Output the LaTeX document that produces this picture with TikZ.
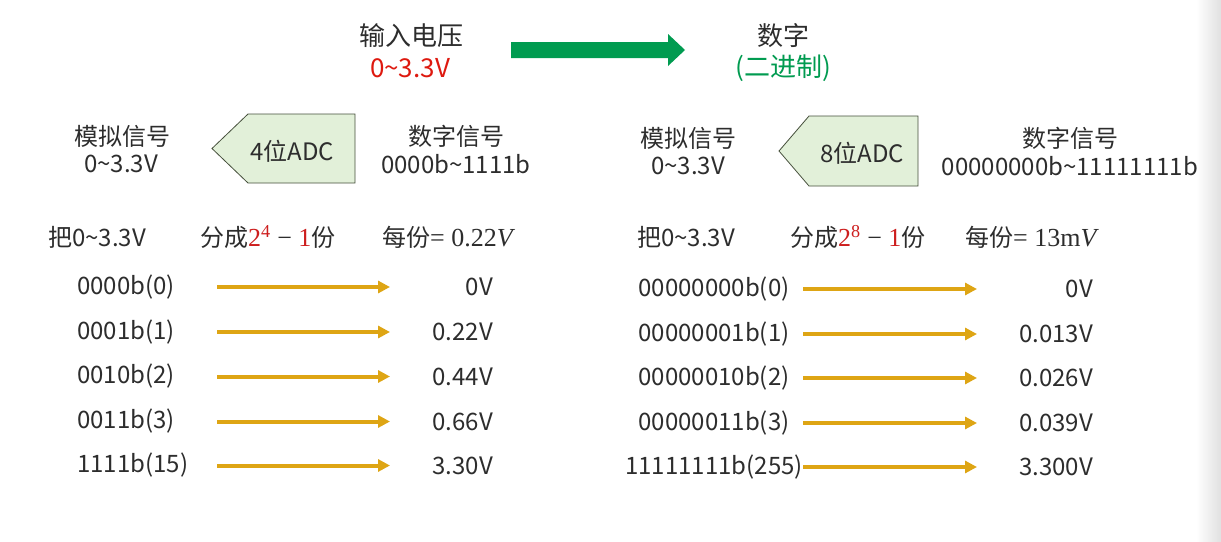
\documentclass[tikz,border=0pt]{standalone}
\usepackage{fontspec}
\setmainfont{Noto Sans CJK SC}
\newfontfamily\mathlikefam{Liberation Serif}
\newcommand{\mathlike}{\mathlikefam\fontsize{26}{30}\selectfont}
\usetikzlibrary{arrows.meta}
\definecolor{txt}{RGB}{45,45,45}
\definecolor{myred}{RGB}{222,25,15}
\definecolor{mathred}{RGB}{205,30,30}
\definecolor{mygreen}{RGB}{0,155,80}
\definecolor{gold}{RGB}{222,165,20}
\definecolor{adcfill}{RGB}{226,240,217}
\definecolor{adcdraw}{RGB}{70,80,60}
\begin{document}
\begin{tikzpicture}[x=1pt,y=-1pt,
  lbl/.style={text=txt, font=\fontsize{24}{28}\selectfont, inner sep=0pt},
  ttl/.style={text=txt, font=\fontsize{26}{30}\selectfont, inner sep=0pt},
  adcbox/.style={fill=adcfill, draw=adcdraw, line width=0.8pt, line join=miter},
  goldarrow/.style={draw=gold, line width=4pt, -{Triangle[length=12pt,width=12pt]}},
]
\useasboundingbox (0,0) rectangle (1221,541);
\fill[white] (0,0) rectangle (1221,541);
\shade[left color=white, right color=black!12] (1196,0) rectangle (1221,541);

% title row
\node[ttl] (t1) at (411,36) {输入电压};
\node[ttl, text=myred] (t1v) at (410,68) {0\textasciitilde3.3V};
\node[ttl] (t2) at (783,36) {数字};
\node[ttl, text=mygreen] (t2v) at (783,68) {(二进制)};
\fill[mygreen] (511,42) -- (668,42) -- (668,34) -- (685,50) -- (668,66) -- (668,58) -- (511,58) -- cycle;

% left ADC
\node[lbl] (la) at (122,136) {模拟信号};
\node[lbl] (lav) at (121,164) {0\textasciitilde3.3V};
\draw[adcbox] (212,148.5) -- (248,114) -- (355,114) -- (355,183) -- (248,183) -- cycle;
\node[lbl] (ladc) at (292,151) {4位ADC};
\node[lbl] (ld) at (456,136) {数字信号};
\node[lbl] (ldv) at (456,164) {0000b\textasciitilde1111b};

% right ADC
\node[lbl] (ra) at (688,138) {模拟信号};
\node[lbl] (rav) at (688,166) {0\textasciitilde3.3V};
\draw[adcbox] (779,151) -- (809,116) -- (918,116) -- (918,186) -- (809,186) -- cycle;
\node[lbl] (radc) at (862,153) {8位ADC};
\node[lbl] (rd) at (1070,138) {数字信号};
\node[lbl] (rdv) at (1070,166) {00000000b\textasciitilde11111111b};

% row 3
\node[lbl, anchor=west] (lp1) at (48,237) {把0\textasciitilde3.3V};
\node[lbl, anchor=west] (lp2) at (200,237) {分成{\mathlike\textcolor{mathred}{2\textsuperscript{4}} − \textcolor{mathred}{1}}份};
\node[lbl, anchor=west] (lp3) at (382,237) {每份{\mathlike= 0.22\textit{V}}};
\node[lbl, anchor=west] (rp1) at (637,237) {把0\textasciitilde3.3V};
\node[lbl, anchor=west] (rp2) at (790,237) {分成{\mathlike\textcolor{mathred}{2\textsuperscript{8}} − \textcolor{mathred}{1}}份};
\node[lbl, anchor=west] (rp3) at (965,237) {每份{\mathlike= 13m\textit{V}}};

% left table
\foreach \i/\lab/\val/\y in {1/0000b(0)/0V/287, 2/0001b(1)/0.22V/332, 3/0010b(2)/0.44V/376.5, 4/0011b(3)/0.66V/421.5, 5/1111b(15)/3.30V/465.5}{
  \node[lbl, anchor=west] (L\i) at (77,\y) {\lab};
  \node[lbl, anchor=east] (LV\i) at (493,\y) {\val};
  \coordinate (LA\i) at (217,\y);
  \coordinate (LB\i) at (390,\y);
  \draw[goldarrow] (LA\i) -- (LB\i);
}
% right table
\foreach \i/\lab/\val/\y in {1/00000000b(0)/0V/289, 2/00000001b(1)/0.013V/334, 3/00000010b(2)/0.026V/378, 4/00000011b(3)/0.039V/423, 5/11111111b(255)/3.300V/467}{
  \node[lbl] (R\i) at (714,\y) {\lab};
  \node[lbl, anchor=east] (RV\i) at (1093,\y) {\val};
  \coordinate (RA\i) at (803,\y);
  \coordinate (RB\i) at (977,\y);
  \draw[goldarrow] (RA\i) -- (RB\i);
}
\end{tikzpicture}
\end{document}
